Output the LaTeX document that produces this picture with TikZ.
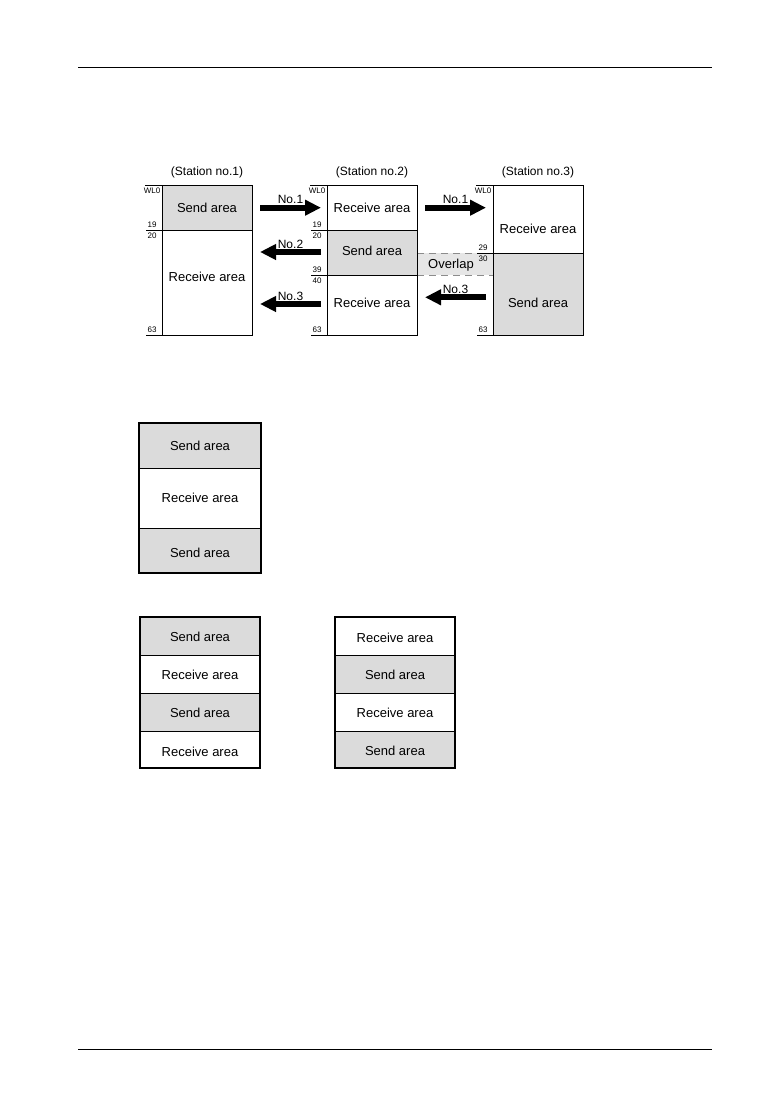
\documentclass[tikz,border=0pt]{standalone}
\usepackage{fontspec}
\setmainfont{Liberation Sans}
\usetikzlibrary{arrows.meta}
\definecolor{areagray}{gray}{0.86}
\definecolor{dashgray}{gray}{0.55}
\tikzset{
  area/.style={draw,line width=0.8pt},
  sendarea/.style={area,fill=areagray},
  frame/.style={draw,line width=1.3pt},
  tick/.style={line width=0.6pt},
  addr/.style={inner sep=0pt,font=\fontsize{8}{9}\selectfont},
  station/.style={font=\fontsize{12}{14}\selectfont},
  bigarrow/.style={line width=6pt,-{Triangle[length=16pt,width=15pt]}},
  arrowlabel/.style={midway,yshift=8pt,font=\fontsize{12}{14}\selectfont},
}
\begin{document}
\begin{tikzpicture}[x=1pt,y=-1pt,font=\fontsize{13}{15}\selectfont]
\useasboundingbox (0,0) rectangle (774,1094);
% page rules
\draw[line width=0.9pt] (78,67) -- (712,67);
\draw[line width=0.9pt] (78,1049) -- (712,1049);
% overlap band
\fill[areagray!70] (417,253) rectangle (493,275);
\draw[dashgray,line width=0.8pt,dash pattern=on 7pt off 5pt] (417,253) -- (493,253) (417,275) -- (493,275);
\node at (451,265) {Overlap};
% station no.1
\node[station] at (207,172) {(Station no.1)};
\draw[sendarea] (162,185) rectangle (252,230);
\draw[area] (162,230) rectangle (252,335);
\node at (207,207.5) {Send area};
\node at (207,277) {Receive area};
% station no.2
\node[station] at (372,172) {(Station no.2)};
\draw[area] (327,185) rectangle (417,230);
\draw[sendarea] (327,230) rectangle (417,275);
\draw[area] (327,275) rectangle (417,335);
\node at (372,207.5) {Receive area};
\node at (372,251) {Send area};
\node at (372,302.5) {Receive area};
% station no.3
\node[station] at (538,172) {(Station no.3)};
\draw[area] (493,185) rectangle (583,253);
\draw[sendarea] (493,253) rectangle (583,335);
\node at (538,229) {Receive area};
\node at (538,302.5) {Send area};
% addresses
\foreach \bx in {162,327,493}{
  \draw[tick] (\bx-17,185) -- (\bx,185) (\bx-16,335) -- (\bx,335);
  \node[addr] at (\bx-10,190.5) {WL0};
  \node[addr] at (\bx-10,329.5) {63};
}
\foreach \bx/\yy/\na/\nb in {162/230/19/20,327/230/19/20,327/275/39/40,493/253/29/30}{
  \draw[tick] (\bx-16,\yy) -- (\bx,\yy);
  \node[addr] at (\bx-10,\yy-5.5) {\na};
  \node[addr] at (\bx-10,\yy+5.5) {\nb};
}
% transfers
\coordinate (a1l) at (260,207.7);  \coordinate (a1r) at (321,207.7);
\coordinate (a2l) at (260,252);    \coordinate (a2r) at (321,252);
\coordinate (a3l) at (260,304);    \coordinate (a3r) at (321,304);
\coordinate (b1l) at (425,207.7);  \coordinate (b1r) at (486,207.7);
\coordinate (b3l) at (425,297.3);  \coordinate (b3r) at (486,297.3);
\draw[bigarrow] (a1l) -- (a1r) node[arrowlabel] {No.1};
\draw[bigarrow] (a2r) -- (a2l) node[arrowlabel] {No.2};
\draw[bigarrow] (a3r) -- (a3l) node[arrowlabel] {No.3};
\draw[bigarrow] (b1l) -- (b1r) node[arrowlabel] {No.1};
\draw[bigarrow] (b3r) -- (b3l) node[arrowlabel] {No.3};
% three-block layout
\draw[sendarea] (139,423) rectangle (261,468);
\draw[area] (139,468) rectangle (261,528);
\draw[sendarea] (139,528) rectangle (261,573);
\draw[frame] (139,423) rectangle (261,573);
\node at (200,446) {Send area};
\node at (200,498) {Receive area};
\node at (200,553) {Send area};
% four-block layouts
\draw[sendarea] (140,617) rectangle (260,655);
\draw[area] (140,655) rectangle (260,693);
\draw[sendarea] (140,693) rectangle (260,731);
\draw[area] (140,731) rectangle (260,768);
\draw[frame] (140,617) rectangle (260,768);
\node at (200,636.5) {Send area};
\node at (200,675) {Receive area};
\node at (200,712.5) {Send area};
\node at (200,751.5) {Receive area};
\draw[area] (335,617) rectangle (455,655);
\draw[sendarea] (335,655) rectangle (455,693);
\draw[area] (335,693) rectangle (455,731);
\draw[sendarea] (335,731) rectangle (455,768);
\draw[frame] (335,617) rectangle (455,768);
\node at (395,637.5) {Receive area};
\node at (395,675) {Send area};
\node at (395,713) {Receive area};
\node at (395,751) {Send area};
\end{tikzpicture}
\end{document}
